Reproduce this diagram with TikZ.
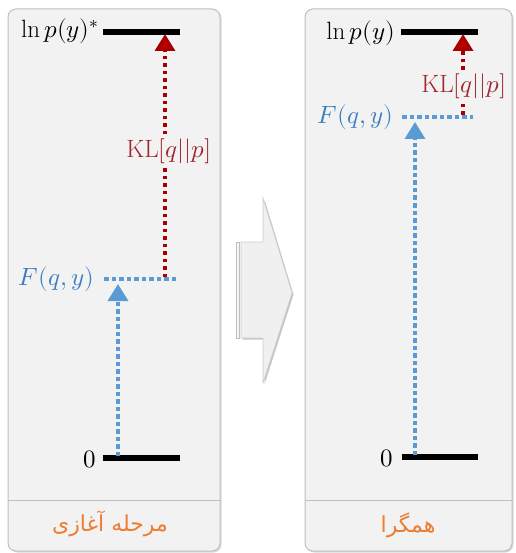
\documentclass[tikz,border=0pt]{standalone}
\usepackage{fontspec}
\usepackage{unicode-math}
\TeXXeTstate=1
\newfontfamily\arabicfont[Script=Arabic]{DejaVu Sans}
\usetikzlibrary{arrows.meta}
\definecolor{panelbg}{HTML}{F2F2F2}
\definecolor{panelline}{HTML}{BFBFBF}
\definecolor{bluel}{HTML}{5B9BD5}
\definecolor{bluet}{HTML}{3A7DC2}
\definecolor{redl}{HTML}{A80000}
\definecolor{redt}{HTML}{A0262E}
\definecolor{oranget}{HTML}{ED7D31}
\tikzset{
  panel/.style={fill=panelbg,draw=panelline,line width=1pt,rounded corners=8pt},
  shadowbox/.style={fill=gray!30,rounded corners=8pt},
  levelbar/.style={line width=5.5pt,black},
  bluedots/.style={bluel,line width=3.5pt,dash pattern=on 4.5pt off 3pt},
  reddots/.style={redl,line width=3.5pt,dash pattern=on 3.5pt off 4pt},
  bluearrow/.style={bluedots,-{Triangle[width=20pt,length=17pt]}},
  redarrow/.style={reddots,-{Triangle[width=20pt,length=17pt,fill=red!75!black]}},
  lbl/.style={font=\fontsize{25}{30}\selectfont,inner sep=1pt},
  kllbl/.style={lbl,text=redt,fill=panelbg,inner sep=3pt},
  flbl/.style={lbl,text=bluet},
  footer/.style={font=\arabicfont\fontsize{22}{26}\selectfont,text=oranget},
}
\begin{document}
\begin{tikzpicture}[x=1pt,y=-1pt]
\useasboundingbox (0,0) rectangle (515,553);
% panels
\fill[shadowbox] (9.5,10.5) rectangle (221.5,552.5);
\draw[panel] (8,9) rectangle (220,551);
\draw[panelline,line width=1pt] (8,500) -- (220,500);
\fill[shadowbox] (306.5,10.5) rectangle (513.5,552.5);
\draw[panel] (305,9) rectangle (512,551);
\draw[panelline,line width=1pt] (305,500) -- (512,500);
% middle arrow
\fill[gray!45] (242.5,243.5) -- (264.5,243.5) -- (264.5,199.5) -- (293.5,294.5) -- (264.5,384.5) -- (264.5,339.5) -- (242.5,339.5) -- cycle;
\filldraw[fill=gray!12,draw=gray!40,line width=0.6pt] (241,242) -- (263,242) -- (263,198) -- (292,293) -- (263,383) -- (263,338) -- (241,338) -- cycle;
\filldraw[fill=gray!8,draw=gray!50,line width=0.6pt] (236.5,242) rectangle (239.5,338);
% ---------- left panel ----------
\node[lbl,anchor=east] (lnL) at (100,31) {$\ln p(y)^*$};
\coordinate (topLa) at (103,32);
\coordinate (topLb) at (180,32);
\draw[levelbar] (topLa) -- (topLb);
\node[lbl,anchor=east] (zeroL) at (97,459) {$0$};
\coordinate (zeroLa) at (103,458);
\coordinate (zeroLb) at (180,458);
\draw[levelbar] (zeroLa) -- (zeroLb);
\node[flbl,anchor=east] (FL) at (95,279) {$F(q,y)$};
\coordinate (FLa) at (104,279);
\coordinate (FLb) at (177,279);
\draw[bluedots] (FLa) -- (FLb);
\coordinate (blueLs) at (118,456);
\coordinate (blueLe) at (118,284);
\draw[bluearrow] (blueLs) -- (blueLe);
\coordinate (redLs) at (165,277);
\coordinate (redLe) at (165,34);
\draw[redarrow] (redLs) -- (redLe);
\node[kllbl] (KLL) at (169,151) {$\mathrm{KL}[q||p]$};
\node[footer] (footL) at (110,524) {\beginR مرحله آغازی\endR};
% ---------- right panel ----------
\node[lbl,anchor=east] (lnR) at (396,33) {$\ln p(y)$};
\coordinate (topRa) at (401,32);
\coordinate (topRb) at (478,32);
\draw[levelbar] (topRa) -- (topRb);
\node[lbl,anchor=east] (zeroR) at (394,458) {$0$};
\coordinate (zeroRa) at (402,457);
\coordinate (zeroRb) at (478,457);
\draw[levelbar] (zeroRa) -- (zeroRb);
\node[flbl,anchor=east] (FR) at (394,117) {$F(q,y)$};
\coordinate (FRa) at (402,117);
\coordinate (FRb) at (473,117);
\draw[bluedots] (FRa) -- (FRb);
\coordinate (blueRs) at (415,455);
\coordinate (blueRe) at (415,122);
\draw[bluearrow] (blueRs) -- (blueRe);
\coordinate (redRs) at (463,115);
\coordinate (redRe) at (463,34);
\draw[redarrow] (redRs) -- (redRe);
\node[kllbl] (KLR) at (464,86) {$\mathrm{KL}[q||p]$};
\node[footer] (footR) at (408,525) {\beginR همگرا\endR};
\end{tikzpicture}
\end{document}
